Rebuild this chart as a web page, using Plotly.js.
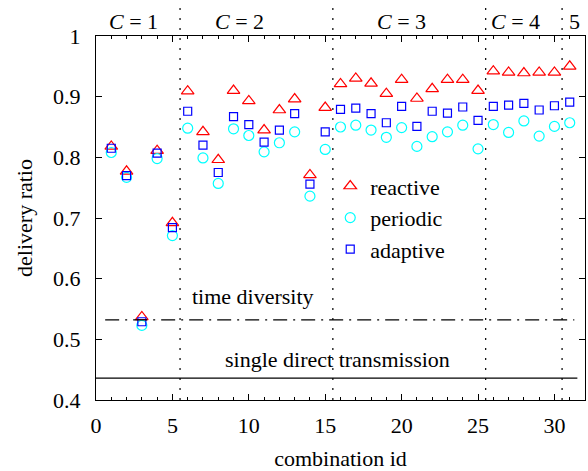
<!DOCTYPE html>
<html>
<head>
<meta charset="utf-8">
<script src="https://cdn.plot.ly/plotly-3.0.1.min.js"></script>
<style>html,body{margin:0;padding:0;background:#fff;}#chart{width:588px;height:471px;}</style>
</head>
<body>
<div id="chart"></div>
<script>
// Data
const combinationId = [1,2,3,4,5,6,7,8,9,10,11,12,13,14,15,16,17,18,19,20,21,22,23,24,25,26,27,28,29,30,31];
const reactive = [0.818,0.777,0.537,0.811,0.692,0.909,0.842,0.796,0.910,0.893,0.845,0.878,0.896,0.771,0.882,0.921,0.930,0.922,0.905,0.928,0.897,0.913,0.928,0.928,0.910,0.942,0.940,0.939,0.940,0.940,0.950];
const periodic = [0.808,0.767,0.523,0.798,0.671,0.848,0.799,0.757,0.847,0.836,0.809,0.824,0.842,0.736,0.813,0.850,0.853,0.845,0.833,0.849,0.818,0.834,0.842,0.853,0.814,0.854,0.841,0.860,0.835,0.851,0.857];
const adaptive = [0.815,0.770,0.529,0.807,0.684,0.876,0.820,0.775,0.867,0.854,0.825,0.845,0.872,0.756,0.842,0.879,0.881,0.872,0.857,0.884,0.851,0.876,0.873,0.883,0.861,0.884,0.886,0.889,0.878,0.885,0.891];
const timeDiversity = 0.532;
const singleDirect = 0.436;
const refLineX = [0.6, 31.3];
const singleLineX = [0, 31.5];
const groupBoundaries = [5.5, 15.5, 25.5, 30.5];
const groupLabels = ['<i>C</i> = 1', '<i>C</i> = 2', '<i>C</i> = 3', '<i>C</i> = 4', '5'];
const groupLabelX = [2.46, 9.4, 20.0, 27.45, 31.3];

const serif = 'Liberation Serif';

const traces = [
  {x: combinationId, y: reactive, name: 'reactive', mode: 'markers', type: 'scatter', legendgroup: 'a',
   marker: {symbol: 'triangle-up-open', size: 11, color: '#ff0000', line: {width: 1.2, color: '#ff0000'}}},
  {x: combinationId, y: periodic, name: 'periodic', mode: 'markers', type: 'scatter', legendgroup: 'b',
   marker: {symbol: 'circle-open', size: 10, color: '#00ffff', line: {width: 1.2, color: '#00ffff'}}},
  {x: combinationId, y: adaptive, name: 'adaptive', mode: 'markers', type: 'scatter', legendgroup: 'c',
   marker: {symbol: 'square-open', size: 8, color: '#0000ff', line: {width: 1.2, color: '#0000ff'}}},
  {x: refLineX, y: refLineX.map(() => timeDiversity), mode: 'lines', type: 'scatter', showlegend: false, hoverinfo: 'skip',
   line: {color: '#000', width: 1.2, dash: '14px,6px,2px,6px'}},
  {x: singleLineX, y: singleLineX.map(() => singleDirect), mode: 'lines', type: 'scatter', showlegend: false, hoverinfo: 'skip',
   line: {color: '#000', width: 1.2}}
];

const shapes = groupBoundaries.map(b => ({
  type: 'line', xref: 'x', yref: 'paper', x0: b, x1: b, y0: 0, y1: 1.085,
  line: {color: '#000', width: 1.2, dash: '2px,8px'}, layer: 'below'
}));

const annotations = groupLabels.map((t, i) => ({
  text: t, x: groupLabelX[i], xref: 'x', y: 1, yref: 'paper', yanchor: 'bottom', yshift: 0,
  showarrow: false, font: {family: serif, size: 22, color: '#000'}
}));
annotations.push({text: 'time diversity', x: 10.3, xref: 'x', y: 0.571, yref: 'y', showarrow: false,
  font: {family: serif, size: 22, color: '#000'}});
annotations.push({text: 'single direct transmission', x: 15.8, xref: 'x', y: 0.467, yref: 'y', showarrow: false,
  font: {family: serif, size: 22, color: '#000'}});

const layout = {
  width: 588, height: 471,
  margin: {l: 96, r: 3, t: 36, b: 71},
  paper_bgcolor: '#fff', plot_bgcolor: '#fff',
  font: {family: serif, size: 22, color: '#000'},
  showlegend: true,
  legend: {x: 0.479, y: 0.645, xanchor: 'left', yanchor: 'top', bgcolor: 'rgba(0,0,0,0)',
           font: {family: serif, size: 22, color: '#000'}, tracegroupgap: 0},
  xaxis: {range: [0, 32], dtick: 5, tick0: 0, ticks: 'inside', ticklen: 6, tickwidth: 1, tickcolor: '#000',
          showline: true, linecolor: '#000', linewidth: 1.2, mirror: 'allticks', showgrid: false, zeroline: false,
          minor: {dtick: 1, ticks: 'inside', ticklen: 3, tickcolor: '#000', showgrid: false},
          ticklabelstandoff: 5,
          tickfont: {family: serif, size: 22},
          title: {text: 'combination id', font: {family: serif, size: 22}, standoff: 14}},
  yaxis: {range: [0.4, 1], dtick: 0.1, ticks: 'inside', ticklen: 6, tickwidth: 1, tickcolor: '#000',
          showline: true, linecolor: '#000', linewidth: 1.2, mirror: 'allticks', showgrid: false, zeroline: false,
          tickformat: '~g', ticklabelstandoff: 10,
          tickfont: {family: serif, size: 22},
          title: {text: 'delivery ratio', font: {family: serif, size: 22}, standoff: 14}},
  shapes: shapes,
  annotations: annotations
};

Plotly.newPlot('chart', traces, layout, {displayModeBar: false, staticPlot: true});
</script>
</body>
</html>
